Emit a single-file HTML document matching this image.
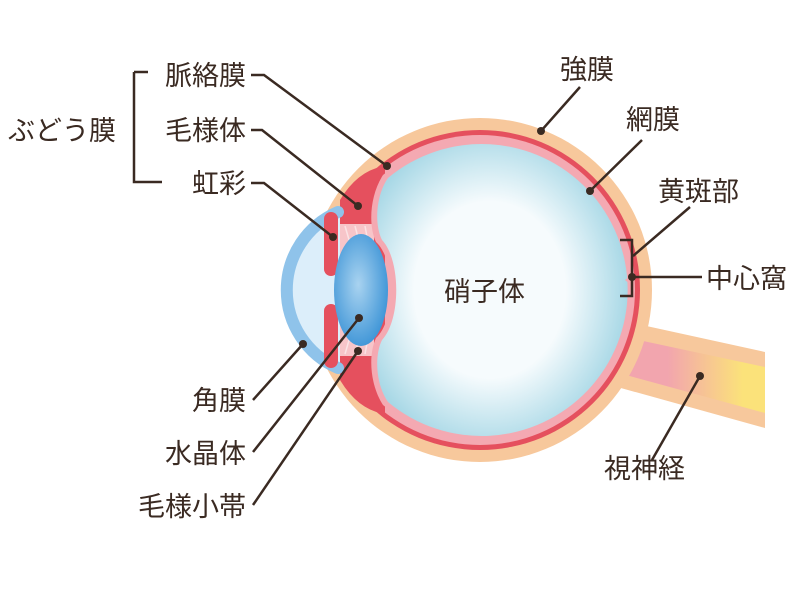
<!DOCTYPE html>
<html><head><meta charset="utf-8"><style>
html,body{margin:0;padding:0;background:#fff;}
svg{display:block;}
text{font-family:"Liberation Sans","Noto Sans CJK JP",sans-serif;font-size:27px;fill:#3a2a22;}
</style></head><body>
<svg width="800" height="590" viewBox="0 0 800 590">
<defs>
<radialGradient id="vit" cx="0.45" cy="0.5" r="0.55">
<stop offset="0.55" stop-color="#f6fbfd"/><stop offset="1" stop-color="#a8d8e6"/>
</radialGradient>
<radialGradient id="lens" cx="0.45" cy="0.45" r="0.6">
<stop offset="0" stop-color="#a9d3f0"/><stop offset="1" stop-color="#3b93d6"/>
</radialGradient>
<linearGradient id="nerve" x1="0" y1="0" x2="1" y2="0">
<stop offset="0.35" stop-color="#f2a5ae"/><stop offset="0.85" stop-color="#fbe27a"/>
</linearGradient>
</defs>
<polygon points="610,318 765,352 765,428 610,385" fill="#f7c89c"/>
<polygon points="615,335 765,367 765,413 615,372" fill="url(#nerve)"/>
<circle cx="480" cy="290" r="172" fill="#f7c89c"/>
<circle cx="480" cy="290" r="160" fill="#e5505e"/>
<circle cx="480" cy="290" r="155" fill="#f4a9b2"/>
<path d="M340,200 Q358,170 385,166 L385,414 Q358,410 340,380 Z" fill="#e5505e"/>
<path d="M340,214 A84,84 0 0 0 340,366 Z" fill="#dceefa"/>
<path d="M338,212 A85,85 0 0 0 338,368" fill="none" stroke="#8fc3ea" stroke-width="12" stroke-linecap="round"/>
<rect x="340" y="224" width="34" height="132" fill="#f7c5c9"/>
<g stroke="#fbe3e5" stroke-width="1.5"><path d="M345,226 L352,250 M355,226 L360,245 M365,226 L368,242 M345,354 L352,330 M355,354 L360,335 M365,354 L368,338"/></g>
<path d="M383,175 A150,150 0 1 1 383,405 C370,385 368,355 376,338 C396,320 396,260 376,242 C368,225 370,195 383,175 Z" fill="#f4a9b2"/>
<path d="M388,178 A146,146 0 1 1 388,402 C376,385 374,356 382,340 C401,320 401,260 382,240 C374,224 376,195 388,178 Z" fill="url(#vit)"/>
<rect x="324" y="212" width="14" height="64" rx="7" fill="#e5505e"/>
<rect x="324" y="304" width="14" height="64" rx="7" fill="#e5505e"/>
<ellipse cx="361" cy="290" rx="27" ry="56" fill="url(#lens)"/>
<path d="M632,274 l-7,6 l7,6 Z" fill="#f4a9b2"/>
<g stroke="#3a2a22" stroke-width="2.5" fill="none">
<path d="M134,72 H148 M134,72 V182 H162"/>
<path d="M251,75 H264 L387,166"/>
<path d="M251,130 H262 L358,206"/>
<path d="M251,183 H264 L333,237"/>
<path d="M580,87 L541,131"/>
<path d="M642,140 L590,191"/>
<path d="M690,207 L633,256"/>
<path d="M620,240 H632 V296 H620"/>
<path d="M632,277 H702"/>
<path d="M253,400 L303,344"/>
<path d="M253,452 L359,318"/>
<path d="M253,505 L358,351"/>
<path d="M652,460 L700,376"/>
</g>
<g fill="#3a2a22">
<circle cx="387" cy="166" r="4"/><circle cx="358" cy="206" r="4"/><circle cx="333" cy="237" r="4"/>
<circle cx="541" cy="131" r="4"/><circle cx="590" cy="191" r="4"/><circle cx="632" cy="277" r="4"/>
<circle cx="303" cy="344" r="4"/><circle cx="359" cy="318" r="4"/><circle cx="358" cy="351" r="4"/>
<circle cx="700" cy="376" r="4"/>
</g>
<g text-anchor="end">
<text x="246" y="85">脈絡膜</text>
<text x="246" y="140">毛様体</text>
<text x="246" y="193">虹彩</text>
<text x="246" y="410">角膜</text>
<text x="246" y="463">水晶体</text>
<text x="246" y="516">毛様小帯</text>
</g>
<text x="8" y="140">ぶどう膜</text>
<text x="560" y="79">強膜</text>
<text x="626" y="129">網膜</text>
<text x="658" y="201">黄斑部</text>
<text x="706" y="288">中心窩</text>
<text x="444" y="301">硝子体</text>
<text x="604" y="478">視神経</text>
</svg>
</body></html>
